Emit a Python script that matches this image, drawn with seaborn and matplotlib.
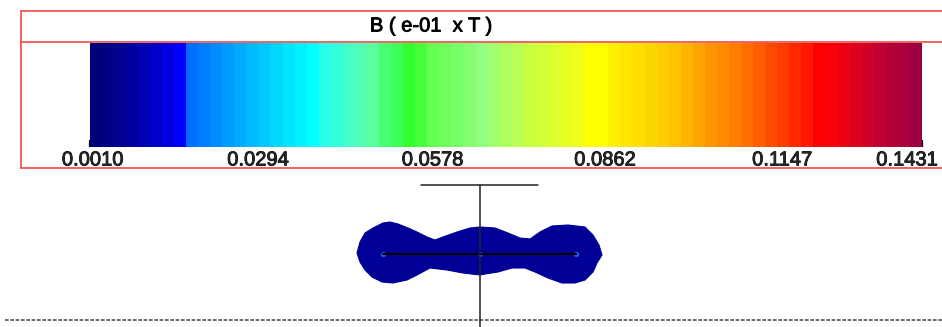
import numpy as np
import matplotlib
matplotlib.use("Agg")
import matplotlib.pyplot as plt
import matplotlib.transforms as mtransforms
import matplotlib.patheffects as pe
from matplotlib.colors import ListedColormap
from matplotlib.lines import Line2D
import seaborn as sns

sns.set_theme(style="white")
plt.rcParams['font.family'] = ['Liberation Sans', 'DejaVu Sans']

# ---------------- data ----------------
title = "B ( e-01  x T )"
tick_values = [0.0010, 0.0294, 0.0578, 0.0862, 0.1147, 0.1431]
tick_labels = ["0.0010", "0.0294", "0.0578", "0.0862", "0.1147", "0.1431"]
bar_min = 0.0010
bar_max = 0.1365
band_colors = [
    (0, 0, 120), (0, 0, 132), (0, 0, 145), (0, 0, 160), (0, 0, 180), (0, 0, 200),
    (0, 0, 225), (0, 0, 255), (0, 110, 255), (0, 125, 255), (0, 140, 255), (0, 155, 255),
    (0, 170, 255), (0, 185, 255), (0, 200, 255), (0, 215, 255), (0, 230, 255), (0, 242, 255),
    (0, 255, 255), (40, 255, 235), (50, 255, 220), (70, 255, 200), (80, 255, 180), (90, 255, 160),
    (70, 255, 110), (60, 255, 90), (50, 255, 45), (70, 255, 60), (100, 255, 80), (110, 255, 90),
    (120, 255, 105), (135, 255, 115), (145, 255, 130), (160, 255, 110), (175, 255, 95), (185, 255, 85),
    (200, 255, 65), (210, 255, 55), (220, 255, 45), (230, 255, 35), (240, 255, 25), (255, 255, 0),
    (255, 255, 0), (255, 240, 0), (255, 230, 0), (255, 222, 0), (255, 213, 0), (255, 205, 0),
    (255, 195, 0), (255, 180, 0), (255, 165, 0), (255, 150, 0), (255, 140, 0), (255, 125, 0),
    (255, 110, 0), (255, 95, 0), (255, 75, 0), (255, 60, 0), (255, 40, 0), (255, 25, 0),
    (255, 0, 0), (250, 0, 10), (235, 0, 20), (220, 0, 30), (205, 0, 40), (190, 0, 50),
    (180, 0, 55), (170, 0, 60), (155, 0, 65),
]
band_index = list(range(len(band_colors)))

# field region outline (model units, origin at the centre of the coil axis)
blob_x = [-123, -120, -115, -107, -97, -90, -82, -72, -63, -53, -45, -37, -23, -10, 0,
          15, 28, 40, 50, 60, 72, 88, 105, 113, 119, 122, 117, 113, 105, 95, 82, 68,
          55, 45, 32, 18, 5, 0, -17, -33, -50, -63, -73, -87, -98, -108, -115, -120]
blob_y = [1, 12, 21, 26, 31, 32, 30, 26, 22, 17, 14, 17, 22, 26, 27,
          26, 21, 16, 15, 22, 28, 29, 27, 19, 9, -1, -9, -18, -26, -29, -29, -24,
          -18, -14, -14, -18, -20, -21, -19, -16, -14, -21, -26, -29, -28, -23, -16, -8]
coil_x = [-97, 0, 96]
coil_y = [0, 0, 0]
axis_line_x = [-97, 96]
axis_line_y = [0, 0]
vert_line_x = [0, 0]
vert_line_y = [-73, 69]
top_bar_x = [-59, 58]
top_bar_y = [69, 69]
ground_x = [-475, 462]
ground_y = [-66, -66]

# ---------------- figure ----------------
W, H = 942, 327
fig = plt.figure(figsize=(W / 100, H / 100), dpi=100)
fig.patch.set_facecolor("white")

def fx(px):
    return px / W

def fy(py):
    return 1 - py / H

heavy = [pe.withStroke(linewidth=0.6, foreground="black")]

# drawing axes (whole figure)
ax = fig.add_axes([0, 0, 1, 1])
ax.set_xlim(-480, 462)
ax.set_ylim(-73, 254)
ax.axis("off")

ax.fill(blob_x, blob_y, color="#000096", lw=0.8, ec="#000096", zorder=2)
ax.scatter(coil_x, coil_y, s=14, color="#1a5cff", lw=0, zorder=3)
ax.plot(axis_line_x, axis_line_y, color="black", lw=1.6, zorder=4)
ax.plot(vert_line_x, vert_line_y, color="#222222", lw=1.1, zorder=4)
ax.plot(top_bar_x, top_bar_y, color="#222222", lw=1.1, zorder=4)
ax.plot(ground_x, ground_y, color="#555555", lw=1.2, ls=(0, (2.2, 1.0)), zorder=1)

# red legend frame
red = "#f04848"
for (x0, y0, x1, y1) in [(21, 11, 945, 11), (21, 42, 945, 42), (21, 168, 945, 168), (21, 11, 21, 168)]:
    fig.add_artist(Line2D([fx(x0), fx(x1)], [fy(y0), fy(y1)], color=red, lw=1.2,
                          transform=fig.transFigure))

fig.text(fx(431), fy(26), title, ha="center", va="center", fontsize=14.5,
         color="black", path_effects=heavy)

# colour bar
n = len(band_colors)
cmap = ListedColormap([tuple(c / 255 for c in rgb) for rgb in band_colors])
cax = fig.add_axes([fx(89.5), fy(147), fx(922) - fx(89.5), fy(42.5) - fy(147)])
sns.heatmap(np.array([band_index]), cmap=cmap, vmin=-0.5, vmax=n - 0.5, cbar=False,
            ax=cax, xticklabels=False, yticklabels=False, linewidths=0)
for s in cax.spines.values():
    s.set_visible(False)

pos = [min((v - bar_min) / (bar_max - bar_min) * n, n) for v in tick_values]
cax.set_xticks(pos)
cax.set_xticklabels(tick_labels)
cax.set_yticks([])
cax.tick_params(axis="x", direction="in", length=5, width=1.6, color="black",
                labelsize=14.5, pad=2.5, bottom=True)
label_shift_px = [3, -6, -6, -8, -6, -15]
for lab, dx in zip(cax.get_xticklabels(), label_shift_px):
    lab.set_transform(lab.get_transform() +
                      mtransforms.ScaledTranslation(dx / 100, 0, fig.dpi_scale_trans))
    lab.set_path_effects(heavy)

fig.savefig("out.png", dpi=100, facecolor="white")
